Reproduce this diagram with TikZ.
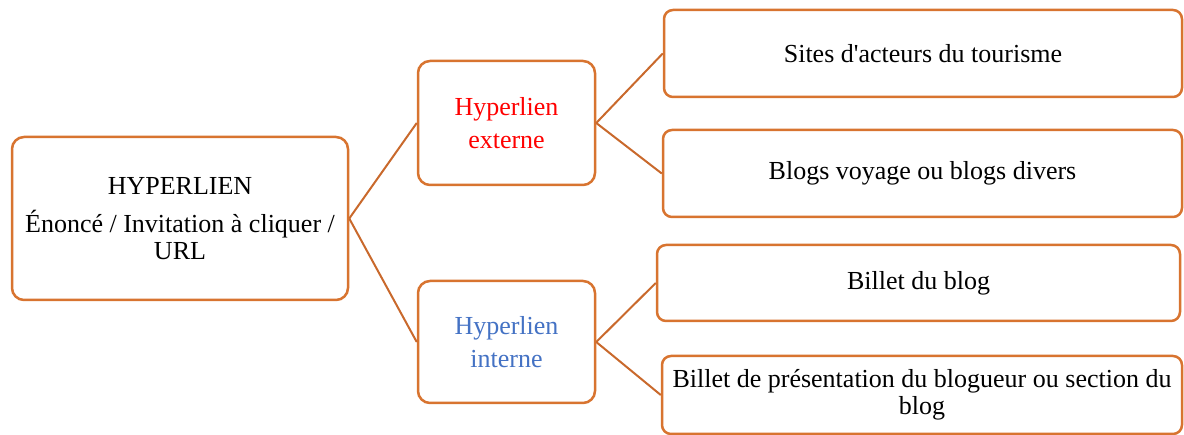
\documentclass[tikz,border=0pt]{standalone}
\usepackage{fontspec}
\setmainfont{Liberation Serif}
\definecolor{boxline}{HTML}{D87430}
\definecolor{connline}{HTML}{C9692C}
\definecolor{extred}{HTML}{FF0000}
\definecolor{intblue}{HTML}{4472C4}
\tikzset{
  bigbox/.style={draw=boxline, line width=2.5pt, rounded corners=12pt, fill=white, inner sep=0pt, align=center,
    font=\fontsize{26}{27}\selectfont},
  leafbox/.style={draw=boxline, line width=2.5pt, rounded corners=9pt, fill=white, inner sep=0pt, align=center,
    font=\fontsize{26}{27}\selectfont},
  conn/.style={draw=connline, line width=2pt}
}
\begin{document}
\begin{tikzpicture}[x=1pt,y=-1pt]
\useasboundingbox (0,0) rectangle (1184,435);
\node[bigbox, minimum width=336pt, minimum height=163pt] (main) at (180,218.5)
  {HYPERLIEN\\[11pt]Énoncé / Invitation à cliquer /\\URL};
\node[bigbox, minimum width=177pt, minimum height=124pt, text=extred] (ext) at (506.5,123)
  {Hyperlien\\[6pt]externe};
\node[bigbox, minimum width=177pt, minimum height=122pt, text=intblue] (int) at (506.5,342)
  {Hyperlien\\[6pt]interne};
\node[leafbox, minimum width=518pt, minimum height=87pt] (sites) at (923,53.5)
  {Sites d\textquotesingle acteurs du tourisme};
\node[leafbox, minimum width=519pt, minimum height=87pt] (blogs) at (922.5,173.5)
  {Blogs voyage ou blogs divers};
\node[leafbox, minimum width=523pt, minimum height=76pt] (billet) at (918.5,283)
  {Billet du blog};
\node[leafbox, minimum width=520pt, minimum height=78pt] (pres) at (922,395)
  {Billet de présentation du blogueur ou section du\\blog};
\draw[conn] (main.east) -- (ext.west);
\draw[conn] (main.east) -- (int.west);
\draw[conn] (ext.east) -- (sites.west);
\draw[conn] (ext.east) -- (blogs.west);
\draw[conn] (int.east) -- (billet.west);
\draw[conn] (int.east) -- (pres.west);
\end{tikzpicture}
\end{document}
